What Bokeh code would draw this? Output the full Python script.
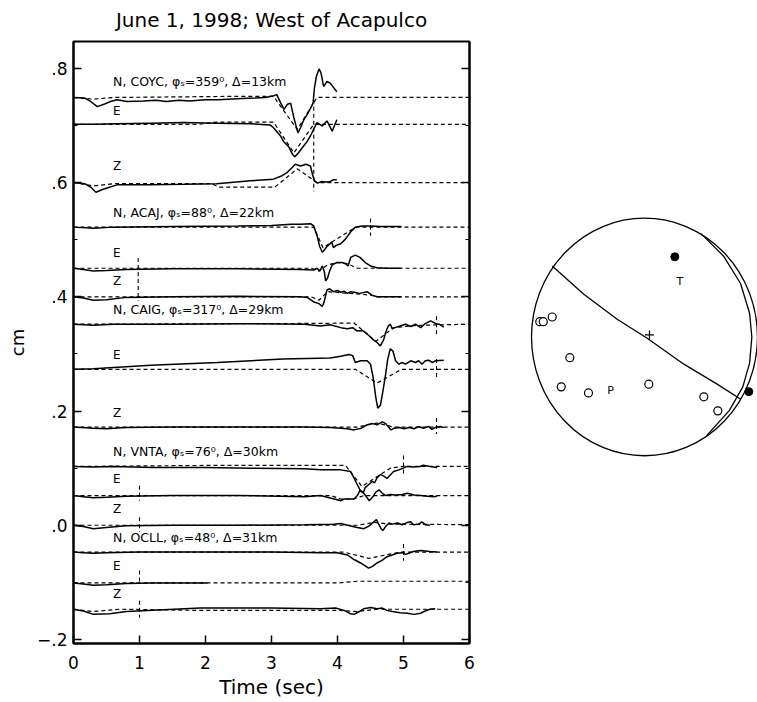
import numpy as np
from bokeh.plotting import figure
from bokeh.models import Range1d, LinearAxis, FixedTicker, CustomJSTickFormatter
from bokeh.layouts import row
from bokeh.embed import file_html
from bokeh.resources import INLINE
from bokeh.core.properties import value

FONT = "DejaVu Sans"

# ---------------- data ----------------
STATIONS = ["COYC", "ACAJ", "CAIG", "VNTA", "OCLL"]
COMPONENTS = ["N", "E", "Z"]
AZIMUTHS = [359, 88, 317, 76, 48]
DISTANCES_KM = [13, 22, 29, 30, 31]

BASE_N = [0.749, 0.522, 0.352, 0.103, -0.047]
BASE_E = [0.702, 0.450, 0.273, 0.052, -0.101]
BASE_Z = [0.600, 0.400, 0.172, 0.000, -0.147]

# observed (solid) and synthetic (dashed) traces: time (s), amplitude about baseline (cm)
COYC_N_T = [0, 0.17, 0.26, 0.36, 0.46, 0.56, 0.66, 0.81, 1.06, 1.25, 1.41, 1.6, 1.76, 2.0, 2.17, 2.35, 2.56, 2.75, 2.91, 3.03,
            3.08, 3.14, 3.19, 3.24, 3.29, 3.34, 3.40, 3.44, 3.49, 3.54, 3.59, 3.63, 3.65, 3.68, 3.72, 3.75, 3.79, 3.84, 3.89, 3.93, 3.99]
COYC_N_OBS = [0, -0.001, -0.007, -0.016, -0.012, -0.007, -0.004, -0.007, -0.006, -0.005, -0.007, -0.005, -0.006, -0.004, -0.004, -0.003, -0.002, -0.001, 0, 0.003,
              0.005, -0.010, -0.021, -0.012, -0.010, -0.036, -0.062, -0.053, -0.039, -0.030, -0.019, -0.010, 0.016, 0.037, 0.050, 0.043, 0.019, 0.028, 0.025, 0.019, 0.010]
COYC_N_ST = [0, 0.3, 0.6, 2.5, 3.03, 3.39, 3.69, 6.0]
COYC_N_SYN = [0, -0.003, 0, 0.002, 0.002, -0.056, 0, 0]

COYC_E_T = [0, 0.3, 0.66, 1.16, 1.67, 2.17, 2.68, 2.98, 3.03, 3.14, 3.19, 3.26, 3.31, 3.35, 3.40, 3.46, 3.54, 3.60, 3.65, 3.69,
            3.77, 3.84, 3.92, 3.99]
COYC_E_OBS = [0, 0, 0.001, 0.002, 0.003, 0.002, 0.001, -0.001, -0.006, -0.021, -0.031, -0.039, -0.051, -0.057, -0.051, -0.042, -0.030, -0.018, -0.006, 0.003,
              -0.003, 0.006, -0.012, 0.008]
COYC_E_ST = [0, 1.9, 2.17, 3.03, 3.34, 3.64, 6.0]
COYC_E_SYN = [0, 0, 0.004, 0.004, -0.050, 0, 0]

COYC_Z_T = [0, 0.17, 0.27, 0.34, 0.42, 0.52, 0.66, 1.16, 1.67, 2.17, 2.68, 3.03, 3.16, 3.24, 3.31, 3.36, 3.44, 3.52, 3.59, 3.62,
            3.65, 3.70, 3.76, 3.83, 3.89, 3.94, 3.99]
COYC_Z_OBS = [0, -0.002, -0.009, -0.017, -0.013, -0.009, -0.004, -0.004, -0.003, -0.002, 0.003, 0.006, 0.012, 0.018, 0.026, 0.032, 0.029, 0.032, 0.029, 0.015,
              0.003, -0.001, 0.002, 0.001, 0.002, 0.005, 0.005]
COYC_Z_ST = [0, 0.3, 0.6, 2.1, 2.2, 3.05, 3.39, 3.69, 6.0]
COYC_Z_SYN = [0, -0.006, -0.002, -0.002, -0.008, -0.008, 0.024, 0, 0]

ACAJ_N_T = [0, 0.3, 0.6, 1.5, 2.5, 3.0, 3.3, 3.44, 3.59, 3.64, 3.69, 3.73, 3.77, 3.80, 3.84, 3.88, 3.91, 3.94, 3.98, 4.05,
            4.12, 4.20, 4.27, 4.37, 4.50, 4.65, 4.80, 4.97]
ACAJ_N_OBS = [0, -0.002, 0, 0.001, 0.002, 0.003, 0.005, 0.005, 0.006, 0.002, -0.015, -0.034, -0.044, -0.040, -0.034, -0.030, -0.026, -0.036, -0.032, -0.029,
              -0.021, -0.008, 0, 0.002, 0.002, 0.001, 0.001, 0.001]
ACAJ_N_ST = [0, 3.64, 3.78, 4.22, 4.30, 6.0]
ACAJ_N_SYN = [0, 0, -0.036, -0.004, 0, 0]

ACAJ_E_T = [0, 0.15, 0.3, 0.5, 0.8, 1.5, 2.5, 3.44, 3.64, 3.69, 3.73, 3.77, 3.80, 3.82, 3.85, 3.88, 3.92, 3.99, 4.07, 4.12,
            4.16, 4.20, 4.27, 4.34, 4.42, 4.50, 4.60, 4.75, 4.97]
ACAJ_E_OBS = [0, -0.002, -0.005, -0.004, -0.002, -0.001, -0.001, -0.002, -0.003, 0, -0.005, 0.004, -0.006, -0.022, -0.017, -0.005, 0.006, 0.010, 0.010, 0.008,
              0.004, 0.019, 0.023, 0.019, 0.010, 0.004, 0.001, 0, 0]
ACAJ_E_ST = [0, 3.6, 3.72, 3.85, 4.0, 4.15, 4.3, 6.0]
ACAJ_E_SYN = [0, 0, -0.005, 0.006, 0.010, 0.008, 0, 0]

ACAJ_Z_T = [0, 0.15, 0.3, 0.5, 0.8, 1.5, 2.5, 3.44, 3.54, 3.64, 3.72, 3.77, 3.80, 3.84, 3.88, 3.94, 4.0, 4.05, 4.10, 4.15,
            4.20, 4.25, 4.34, 4.45, 4.52, 4.60, 4.97]
ACAJ_Z_OBS = [0, -0.002, -0.006, -0.005, -0.001, 0, 0.001, 0, -0.001, -0.009, -0.012, -0.017, -0.008, 0.012, 0.014, 0.009, 0.011, 0.008, 0.010, 0.006,
              0.009, 0.008, 0.006, 0.009, 0.003, 0, 0]
ACAJ_Z_ST = [0, 3.6, 3.72, 3.85, 4.5, 4.6, 6.0]
ACAJ_Z_SYN = [0, 0, -0.006, 0.009, 0.003, 0, 0]

CAIG_N_T = [0, 0.3, 0.6, 1.5, 2.5, 3.5, 3.74, 3.89, 4.05, 4.15, 4.23, 4.30, 4.38, 4.45, 4.53, 4.60, 4.65, 4.70, 4.73, 4.77,
            4.80, 4.83, 4.87, 4.95, 5.03, 5.11, 5.18, 5.26, 5.33, 5.41, 5.49, 5.54, 5.61]
CAIG_N_OBS = [0, -0.002, 0, 0, 0.001, 0, -0.003, -0.001, -0.006, -0.008, -0.006, -0.012, -0.011, -0.017, -0.026, -0.032, -0.038, -0.027, -0.014, -0.003,
              0, -0.008, -0.006, -0.003, 0, -0.004, 0, -0.006, 0.001, 0.006, 0.001, 0, -0.005]
CAIG_N_ST = [0, 3.0, 4.25, 4.58, 4.85, 5.2, 6.0]
CAIG_N_SYN = [0, 0.001, 0.002, -0.030, -0.006, -0.002, 0]

CAIG_E_T = [0, 0.3, 1.17, 2.18, 3.18, 3.89, 4.05, 4.17, 4.23, 4.27, 4.35, 4.45, 4.50, 4.54, 4.58, 4.61, 4.65, 4.69, 4.73, 4.76,
            4.80, 4.84, 4.88, 4.93, 4.98, 5.03, 5.11, 5.18, 5.23, 5.28, 5.33, 5.38, 5.44, 5.48, 5.61]
CAIG_E_OBS = [0, 0.001, 0.007, 0.012, 0.018, 0.020, 0.023, 0.026, 0.024, 0.012, 0.015, 0.015, 0.009, -0.014, -0.049, -0.068, -0.063, -0.037, -0.008, 0.017,
              0.036, 0.032, 0.015, 0.009, 0.012, 0.009, 0.015, 0.012, 0.015, 0.009, 0.015, 0.016, 0.012, 0.015, 0.016]
CAIG_E_ST = [0, 4.27, 4.60, 4.97, 6.0]
CAIG_E_SYN = [0, 0, -0.024, 0, 0]

CAIG_Z_T = [0, 0.3, 0.5, 0.8, 1.5, 2.5, 3.5, 3.89, 4.05, 4.15, 4.25, 4.36, 4.45, 4.53, 4.60, 4.68, 4.73, 4.78, 4.81, 4.86,
            4.93, 5.01, 5.09, 5.16, 5.23, 5.30, 5.38, 5.43, 5.48, 5.56, 5.61]
CAIG_Z_OBS = [0, -0.002, -0.003, -0.001, 0, 0, 0, -0.001, -0.002, -0.003, -0.005, -0.002, 0.004, 0.006, 0.004, 0.009, 0.006, -0.001, -0.005, -0.002,
              -0.001, -0.003, -0.001, -0.003, 0.001, -0.002, 0.001, -0.004, -0.001, 0.001, -0.001]
CAIG_Z_ST = [0, 4.3, 4.6, 4.85, 6.0]
CAIG_Z_SYN = [0, 0, 0.007, 0, 0]

VNTA_N_T = [0, 0.3, 0.6, 1.2, 2.0, 2.7, 3.5, 3.74, 4.05, 4.20, 4.25, 4.30, 4.35, 4.39, 4.42, 4.47, 4.53, 4.56, 4.60, 4.65,
            4.70, 4.75, 4.80, 4.85, 4.93, 5.00, 5.05, 5.15, 5.25, 5.30, 5.40, 5.51]
VNTA_N_OBS = [0, -0.001, 0, -0.002, -0.002, -0.003, -0.004, -0.006, -0.006, -0.009, -0.020, -0.032, -0.043, -0.046, -0.037, -0.032, -0.026, -0.029, -0.020, -0.014,
              -0.017, -0.021, -0.015, -0.009, -0.006, -0.003, 0, -0.001, 0, 0.002, 0, -0.002]
VNTA_N_ST = [0, 2.3, 4.12, 4.37, 4.80, 5.0, 6.0]
VNTA_N_SYN = [0, 0.002, 0.002, -0.035, -0.003, 0, 0]

VNTA_E_T = [0, 0.15, 0.3, 0.5, 0.8, 1.5, 2.5, 3.5, 3.74, 3.95, 4.05, 4.10, 4.25, 4.30, 4.34, 4.38, 4.42, 4.48, 4.53, 4.58,
            4.63, 4.68, 4.73, 4.80, 4.88, 4.98, 5.06, 5.16, 5.26, 5.36, 5.46, 5.51]
VNTA_E_OBS = [0, -0.002, -0.004, -0.003, -0.001, 0, 0, -0.002, 0, -0.006, -0.009, -0.006, -0.006, 0, 0.009, 0.006, 0.001, -0.009, -0.003, 0.006,
              0.010, 0.004, 0, 0.002, 0.001, 0.002, 0.004, 0.001, 0, -0.001, -0.002, -0.001]
VNTA_E_ST = [0, 3.9, 4.05, 4.25, 4.4, 6.0]
VNTA_E_SYN = [0, 0, -0.006, -0.006, 0, 0]

VNTA_Z_T = [0, 0.15, 0.3, 0.5, 0.8, 1.5, 2.5, 3.5, 3.94, 4.05, 4.15, 4.30, 4.40, 4.48, 4.55, 4.59, 4.62, 4.66, 4.69, 4.73,
            4.78, 4.83, 4.91, 4.98, 5.06, 5.11, 5.15, 5.23, 5.28, 5.33, 5.40]
VNTA_Z_OBS = [0, -0.002, -0.006, -0.004, -0.001, 0, 0, 0.001, 0.002, 0.003, 0, -0.004, -0.006, -0.001, 0.006, 0.010, 0.003, -0.006, -0.009, -0.002,
              0.004, 0.002, 0.004, 0.001, 0.005, 0.006, 0.001, 0.002, 0.006, 0.001, 0]
VNTA_Z_ST = [0, 4.3, 4.55, 4.8, 6.0]
VNTA_Z_SYN = [0, 0, 0.005, 0.002, 0.001]

OCLL_N_T = [0, 0.15, 0.3, 0.5, 1.0, 2.0, 3.0, 3.74, 3.99, 4.15, 4.25, 4.35, 4.42, 4.47, 4.53, 4.60, 4.68, 4.75, 4.83, 4.90,
            4.98, 5.03, 5.08, 5.15, 5.26, 5.33, 5.40, 5.51]
OCLL_N_OBS = [0, -0.001, -0.002, -0.001, 0, 0, 0, -0.001, -0.001, -0.005, -0.013, -0.019, -0.024, -0.028, -0.025, -0.019, -0.014, -0.008, -0.005, -0.002,
              -0.001, -0.004, -0.002, 0.001, 0.003, 0.002, 0.001, 0]
OCLL_N_ST = [0, 4.1, 4.47, 4.95, 6.0]
OCLL_N_SYN = [0, 0, -0.011, 0, 0]

OCLL_E_T = [0, 0.15, 0.3, 0.5, 0.8, 1.2, 1.6, 2.03]
OCLL_E_OBS = [0, -0.002, -0.004, -0.003, -0.001, 0, 0, 0]
OCLL_E_ST = [0, 4.0, 4.3, 6.0]
OCLL_E_SYN = [0, 0, 0.003, 0.003]

OCLL_Z_T = [0, 0.15, 0.3, 0.55, 0.8, 1.2, 1.92, 3.0, 3.74, 3.97, 4.10, 4.20, 4.25, 4.33, 4.40, 4.50, 4.60, 4.68, 4.75, 4.83,
            4.95, 5.06, 5.16, 5.26, 5.33, 5.40, 5.48]
OCLL_Z_OBS = [0, -0.003, -0.009, -0.008, -0.004, -0.002, 0.002, 0.002, 0.001, 0.002, -0.002, -0.008, -0.009, -0.004, 0.001, 0.003, 0.001, 0.002, -0.002, -0.004,
              -0.006, -0.007, -0.009, -0.007, -0.003, 0, 0.001]
OCLL_Z_ST = [0, 0.3, 0.7, 1.9, 4.0, 4.3, 4.6, 6.0]
OCLL_Z_SYN = [0, -0.004, 0, -0.002, -0.002, -0.004, 0, 0]

# time marks (vertical dashed ticks): time, top, bottom (cm)
MARK_T = [3.64, 4.50, 0.98, 5.50, 5.50, 5.50, 5.00, 1.00, 1.00, 5.00, 1.00, 1.00]
MARK_Y0 = [0.745, 0.537, 0.468, 0.366, 0.291, 0.188, 0.122, 0.069, 0.014, -0.033, -0.079, -0.132]
MARK_Y1 = [0.585, 0.507, 0.393, 0.334, 0.258, 0.160, 0.087, 0.043, -0.012, -0.062, -0.102, -0.162]

X_TICKS = [0, 1, 2, 3, 4, 5, 6]
Y_TICKS = [-0.2, 0.0, 0.2, 0.4, 0.6, 0.8]
Y_MINOR = [-0.1, 0.1, 0.3, 0.5, 0.7]

# focal mechanism (unit-radius stereonet coordinates)
POL_UP_X = [0.268, 0.923]
POL_UP_Y = [0.675, -0.460]
POL_DN_X = [-0.927, -0.896, -0.817, -0.661, -0.737, -0.496, 0.038, 0.525, 0.649]
POL_DN_Y = [0.129, 0.129, 0.168, -0.174, -0.420, -0.471, -0.397, -0.504, -0.622]
PLANE1_X = [-0.817, -0.537, -0.242, 0.024, 0.348, 0.643, 0.852]
PLANE1_Y = [0.597, 0.359, 0.149, -0.011, -0.229, -0.397, -0.524]
PLANE2_X = [0.50, 0.70, 0.85, 0.93, 0.95, 0.93, 0.87, 0.75, 0.55]
PLANE2_Y = [0.87, 0.68, 0.45, 0.20, 0.0, -0.22, -0.42, -0.62, -0.83]
AXIS_LABELS = ["T", "P"]
AXIS_X = [0.312, -0.301]
AXIS_Y = [0.465, -0.454]
CENTER_X = [0.044]
CENTER_Y = [0.017]

TRACES = {
    ("COYC", "N"): (COYC_N_T, COYC_N_OBS, COYC_N_ST, COYC_N_SYN),
    ("COYC", "E"): (COYC_E_T, COYC_E_OBS, COYC_E_ST, COYC_E_SYN),
    ("COYC", "Z"): (COYC_Z_T, COYC_Z_OBS, COYC_Z_ST, COYC_Z_SYN),
    ("ACAJ", "N"): (ACAJ_N_T, ACAJ_N_OBS, ACAJ_N_ST, ACAJ_N_SYN),
    ("ACAJ", "E"): (ACAJ_E_T, ACAJ_E_OBS, ACAJ_E_ST, ACAJ_E_SYN),
    ("ACAJ", "Z"): (ACAJ_Z_T, ACAJ_Z_OBS, ACAJ_Z_ST, ACAJ_Z_SYN),
    ("CAIG", "N"): (CAIG_N_T, CAIG_N_OBS, CAIG_N_ST, CAIG_N_SYN),
    ("CAIG", "E"): (CAIG_E_T, CAIG_E_OBS, CAIG_E_ST, CAIG_E_SYN),
    ("CAIG", "Z"): (CAIG_Z_T, CAIG_Z_OBS, CAIG_Z_ST, CAIG_Z_SYN),
    ("VNTA", "N"): (VNTA_N_T, VNTA_N_OBS, VNTA_N_ST, VNTA_N_SYN),
    ("VNTA", "E"): (VNTA_E_T, VNTA_E_OBS, VNTA_E_ST, VNTA_E_SYN),
    ("VNTA", "Z"): (VNTA_Z_T, VNTA_Z_OBS, VNTA_Z_ST, VNTA_Z_SYN),
    ("OCLL", "N"): (OCLL_N_T, OCLL_N_OBS, OCLL_N_ST, OCLL_N_SYN),
    ("OCLL", "E"): (OCLL_E_T, OCLL_E_OBS, OCLL_E_ST, OCLL_E_SYN),
    ("OCLL", "Z"): (OCLL_Z_T, OCLL_Z_OBS, OCLL_Z_ST, OCLL_Z_SYN),
}
BASES = {"N": BASE_N, "E": BASE_E, "Z": BASE_Z}

# ---------------- seismogram panel ----------------
p = figure(width=490, height=702, x_range=Range1d(0, 6), y_range=Range1d(-0.207, 0.847),
           output_backend="svg", toolbar_location=None,
           min_border_left=73, min_border_right=21, min_border_top=40, min_border_bottom=59,
           title="June 1, 1998; West of Acapulco")
p.title.align = "center"
p.title.vertical_align = "top"
p.title.text_font = FONT
p.title.text_font_size = "20px"
p.title.text_font_style = "normal"
p.title.text_color = "black"
p.title.standoff = 15
p.grid.visible = False
p.outline_line_color = "black"
p.outline_line_width = 2
p.background_fill_color = "white"
p.border_fill_color = "white"

for ax in (p.xaxis[0], p.yaxis[0]):
    ax.axis_line_width = 2
    ax.major_tick_in = 8
    ax.major_tick_out = 0
    ax.major_tick_line_width = 1.5
    ax.major_label_text_font = FONT
    ax.major_label_text_font_size = "17px"
    ax.major_label_text_color = "black"
    ax.axis_label_text_font = FONT
    ax.axis_label_text_font_style = "normal"
    ax.axis_label_text_color = "black"

p.xaxis.ticker = FixedTicker(ticks=X_TICKS)
p.xaxis.minor_tick_line_color = None
p.xaxis.major_label_standoff = 12
p.xaxis.axis_label = "Time (sec)"
p.xaxis.axis_label_text_font_size = "20px"
p.xaxis.axis_label_standoff = 3

yfmt = CustomJSTickFormatter(code="""
var s = Math.abs(tick).toFixed(1).replace(/^0/, '');
return (tick < -1e-9 ? '\u2212' : '') + s;
""")
p.yaxis.ticker = FixedTicker(ticks=Y_TICKS, minor_ticks=Y_MINOR)
p.yaxis.formatter = yfmt
p.yaxis.minor_tick_in = 4
p.yaxis.minor_tick_out = 0
p.yaxis.major_label_standoff = 6
p.yaxis.axis_label = "cm"
p.yaxis.axis_label_text_font_size = "18px"
p.yaxis.axis_label_standoff = 6

right = LinearAxis(ticker=FixedTicker(ticks=Y_TICKS, minor_ticks=Y_MINOR),
                   formatter=CustomJSTickFormatter(code="return '';"))
right.axis_line_width = 2
right.major_tick_in = 8
right.major_tick_out = 0
right.major_tick_line_width = 1.5
right.minor_tick_in = 4
right.minor_tick_out = 0
p.add_layout(right, "right")

for si, st in enumerate(STATIONS):
    for comp in COMPONENTS:
        t_obs, a_obs, t_syn, a_syn = TRACES[(st, comp)]
        base = BASES[comp][si]
        p.line(t_syn, [base + a for a in a_syn], line_color="black", line_width=1.2, line_dash="4 3")
        p.line(t_obs, [base + a for a in a_obs], line_color="black", line_width=1.5)

p.segment(x0=MARK_T, y0=MARK_Y0, x1=MARK_T, y1=MARK_Y1, line_color="black", line_width=1.1, line_dash="4 3")

# trace labels
HEAD_Y = [0.777, 0.547, 0.378, 0.130, -0.021]
E_Y = [0.726, 0.477, 0.298, 0.081, -0.071]
Z_Y = [0.629, 0.428, 0.197, 0.028, -0.120]
heads = [f"N, {st}, \u03c6\u209b={az}\u2070, \u0394={d}km" for st, az, d in zip(STATIONS, AZIMUTHS, DISTANCES_KM)]
lab_x = [0.6] * len(STATIONS)
p.text(x=lab_x, y=HEAD_Y, text=heads, text_font=value(FONT), text_font_size="12.5px",
       text_align="left", text_baseline="middle", text_color="black")
p.text(x=lab_x, y=E_Y, text=["E"] * 5, text_font=value(FONT), text_font_size="12px",
       text_align="left", text_baseline="middle", text_color="black")
p.text(x=lab_x, y=Z_Y, text=["Z"] * 5, text_font=value(FONT), text_font_size="12px",
       text_align="left", text_baseline="middle", text_color="black")

# ---------------- focal mechanism ----------------
# frame of this panel is aligned with the seismogram frame (y 40..643 px); unit circle -> 113 x 119 px
q = figure(width=267, height=702, x_range=Range1d(-1.363, 1.0), y_range=Range1d(-2.580, 2.487),
           output_backend="svg", toolbar_location=None, min_border=0,
           x_axis_type=None, y_axis_type=None)
q.outline_line_color = None
q.background_fill_color = "white"
q.border_fill_color = "white"
q.ellipse(x=[0], y=[0], width=[2], height=[2], fill_color=None, line_color="black", line_width=1.3)
q.line(PLANE1_X, PLANE1_Y, line_color="black", line_width=1.3)
q.line(PLANE2_X, PLANE2_Y, line_color="black", line_width=1.3)
q.scatter(POL_DN_X, POL_DN_Y, marker="circle", size=8, fill_color="white", line_color="black", line_width=1.2)
q.scatter(POL_UP_X, POL_UP_Y, marker="circle", size=8, fill_color="black", line_color="black")
q.scatter(CENTER_X, CENTER_Y, marker="cross", size=9, line_color="black", line_width=1.2)
q.text(x=AXIS_X, y=AXIS_Y, text=AXIS_LABELS, text_font=value(FONT), text_font_size="11px",
       text_align="center", text_baseline="middle", text_color="black")

layout = row(p, q)
open("out.html", "w").write(file_html(layout, INLINE))
